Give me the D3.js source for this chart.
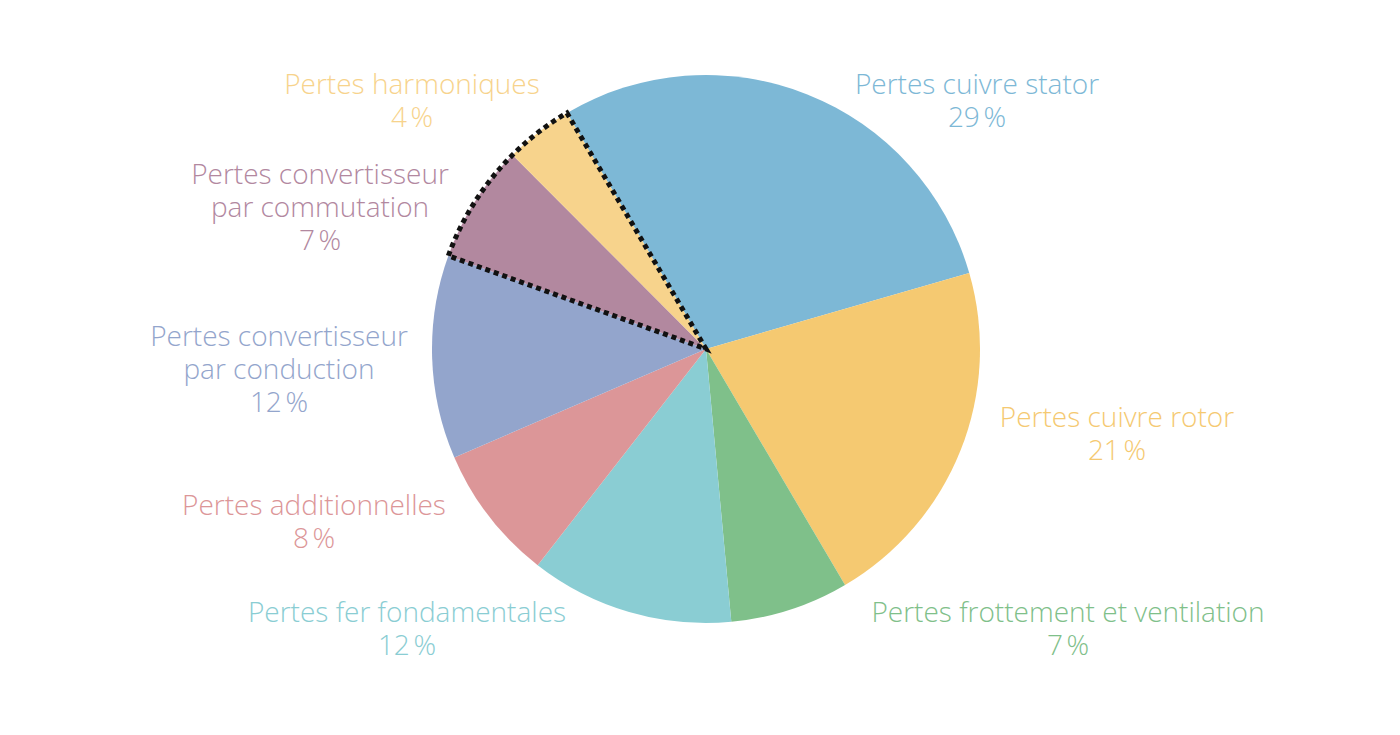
<!DOCTYPE html>
<html>
<head>
<meta charset="utf-8">
<script src="https://cdn.jsdelivr.net/npm/d3@7"></script>
<style>
  body { margin: 0; background: #fff; }
  text { font-family: "Open Sans", sans-serif; font-weight: 300; }
</style>
</head>
<body>
<div id="chart"></div>
<script>
// data
const categories = ["Pertes cuivre stator", "Pertes cuivre rotor", "Pertes frottement et ventilation",
  "Pertes fer fondamentales", "Pertes additionnelles", "Pertes convertisseur\npar conduction",
  "Pertes convertisseur\npar commutation", "Pertes harmoniques"];
const values = [29, 21, 7, 12, 8, 12, 7, 4];
const colors = ["#7db8d6", "#f5c971", "#7fc08a", "#8acdd3", "#dc9698", "#93a5cc", "#b2889f", "#f7d38c"];
const highlighted = [6, 7]; // converter-related, dotted outline

// label anchor points (layout only)
const labelPos = [[977, 94], [1117, 427], [1068, 622], [407, 622], [314, 515], [279, 346], [320, 184], [412, 94]];

const width = 1400, height = 735;
const cx = 706, cy = 349, r = 274;
const startAngle = -30.5 * Math.PI / 180;

const svg = d3.select("#chart").append("svg")
  .attr("width", width).attr("height", height);

const g = svg.append("g").attr("transform", `translate(${cx},${cy})`);

const pie = d3.pie().sort(null)
  .startAngle(startAngle).endAngle(startAngle + 2 * Math.PI);
const arcs = pie(values);
const arc = d3.arc().innerRadius(0).outerRadius(r);

g.selectAll("path.slice")
  .data(arcs)
  .enter()
  .append("path")
    .attr("class", "slice")
    .attr("d", arc)
    .attr("fill", (d, i) => colors[i]);

// dotted outline around converter slices
const hl = highlighted.map(i => arcs[i]);
const hlArc = {
  startAngle: d3.min(hl, d => d.startAngle),
  endAngle: d3.max(hl, d => d.endAngle)
};
g.append("path")
  .attr("d", arc(hlArc))
  .attr("fill", "none")
  .attr("stroke", "#111")
  .attr("stroke-width", 5)
  .attr("stroke-dasharray", "5,4");

// labels
const lineH = 33;
categories.forEach((c, i) => {
  const lines = c.split("\n").concat([values[i] + "\u202f%"]);
  lines.forEach((l, j) => {
    svg.append("text")
      .attr("text-anchor", "middle")
      .attr("font-size", 28)
      .attr("fill", colors[i])
      .attr("x", labelPos[i][0])
      .attr("y", labelPos[i][1] + j * lineH)
      .text(l);
  });
});
</script>
</body>
</html>
